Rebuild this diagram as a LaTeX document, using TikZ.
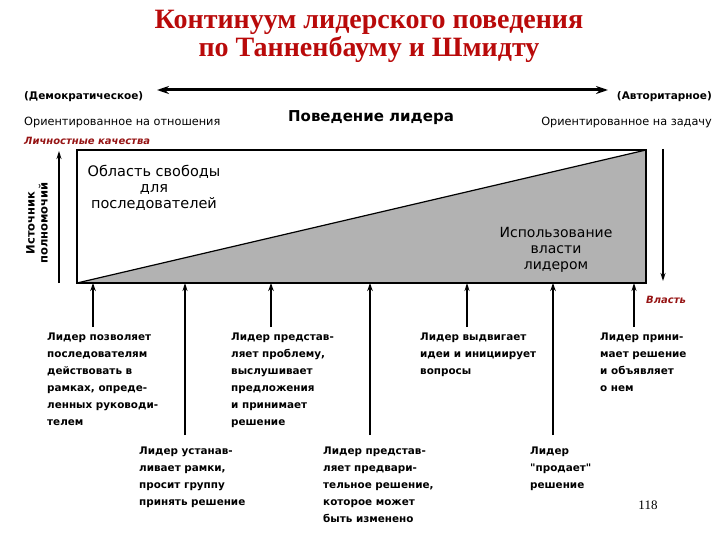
\documentclass[tikz,border=0pt]{standalone}
\usepackage{fontspec}
\setmainfont{DejaVu Sans}
\newfontfamily\titlefont{Liberation Serif}
\usetikzlibrary{arrows.meta}
\definecolor{titlered}{RGB}{185,10,10}
\definecolor{darkred}{RGB}{150,20,20}
\definecolor{shadegray}{RGB}{178,178,178}
\begin{document}
\begin{tikzpicture}[x=1pt,y=-1pt,
  desc/.style={anchor=north west, align=left, inner sep=0pt, font=\bfseries\fontsize{10.4}{17}\selectfont},
  uparrow/.style={-{Stealth[length=8pt,width=5.5pt]}, line width=2.5pt},
  thinarrow/.style={-{Stealth[length=8pt,width=5pt]}, line width=1.3pt},
  small/.style={font=\fontsize{11.3}{12}\selectfont},
  redlab/.style={text=darkred, font=\bfseries\itshape\fontsize{10}{12}\selectfont}]
\useasboundingbox (0,0) rectangle (720,540);
% title
\node[font=\titlefont\bfseries\fontsize{28}{28}\selectfont, text=titlered, align=center] (title) at (369,36) {Континуум лидерского поведения\\по Танненбауму и Шмидту};
% double arrow
\coordinate (L) at (157,90);
\coordinate (R) at (608,90);
\draw[{Stealth[length=12pt,width=8pt]}-{Stealth[length=12pt,width=8pt]}, line width=3pt] (L) -- (R);
\node[anchor=west, inner sep=0pt, font=\bfseries\fontsize{10.5}{12}\selectfont] (dem) at (24,97) {(Демократическое)};
\node[anchor=east, inner sep=0pt, font=\bfseries\fontsize{10.5}{12}\selectfont] (aut) at (712,97) {(Авторитарное)};
\node[anchor=west, inner sep=0pt, small] (rel) at (24,122) {Ориентированное на отношения};
\node[font=\bfseries\fontsize{15}{16}\selectfont] (beh) at (371,118) {Поведение лидера};
\node[anchor=east, inner sep=0pt, small] (task) at (712,122) {Ориентированное на задачу};
\node[anchor=west, inner sep=0pt, redlab] (pers) at (24,141) {Личностные качества};
% box
\coordinate (A) at (77,150);
\coordinate (B) at (646,150);
\coordinate (C) at (646,283);
\coordinate (D) at (77,283);
\fill[shadegray] (D) -- (B) -- (C) -- cycle;
\draw[line width=1.2pt] (D) -- (B);
\draw[line width=1.2pt] (A) rectangle (C);
\node[font=\fontsize{14.5}{16}\selectfont, align=center] (free) at (154,188) {Область свободы\\для\\последователей};
\node[font=\fontsize{14}{16}\selectfont, align=center] (use) at (556,250) {Использование\\власти\\лидером};
% left axis
\coordinate (la) at (59,283);
\coordinate (lb) at (59,151);
\draw[thinarrow] (la) -- (lb);
\node[rotate=90, align=center, inner sep=0pt, font=\bfseries\fontsize{11.5}{13}\selectfont] (src) at (37,223) {Источник\\полномочий};
% right axis
\coordinate (ra) at (663,149);
\coordinate (rb) at (663,281);
\draw[thinarrow] (ra) -- (rb);
\node[anchor=west, inner sep=0pt, redlab] (pow) at (646,300) {Власть};
% descriptions
\node[desc] (d1) at (47,333) {Лидер позволяет\\последователям\\действовать в\\рамках, опреде-\\ленных руководи-\\телем};
\node[desc] (d2) at (139,447) {Лидер устанав-\\ливает рамки,\\просит группу\\принять решение};
\node[desc] (d3) at (231,333) {Лидер представ-\\ляет проблему,\\выслушивает\\предложения\\и принимает\\решение};
\node[desc] (d4) at (323,447) {Лидер представ-\\ляет предвари-\\тельное решение,\\которое может\\быть изменено};
\node[desc] (d5) at (420,333) {Лидер выдвигает\\идеи и инициирует\\вопросы};
\node[desc] (d6) at (530,447) {Лидер\\\textquotedbl продает\textquotedbl\\решение};
\node[desc] (d7) at (600,333) {Лидер прини-\\мает решение\\и объявляет\\о нем};
% arrows
\foreach \i/\x/\y/\st in {1/93/327/uparrow,2/185/435/thinarrow,3/271/327/uparrow,4/370/435/uparrow,5/467/327/thinarrow,6/553/435/uparrow,7/634/327/thinarrow}{
  \coordinate (s\i) at (\x,\y);
  \coordinate (t\i) at (\x,283);
  \draw[\st] (s\i) -- (t\i);
}
\node[font=\titlefont\fontsize{13}{14}\selectfont] (pg) at (648,505) {118};
\end{tikzpicture}
\end{document}
